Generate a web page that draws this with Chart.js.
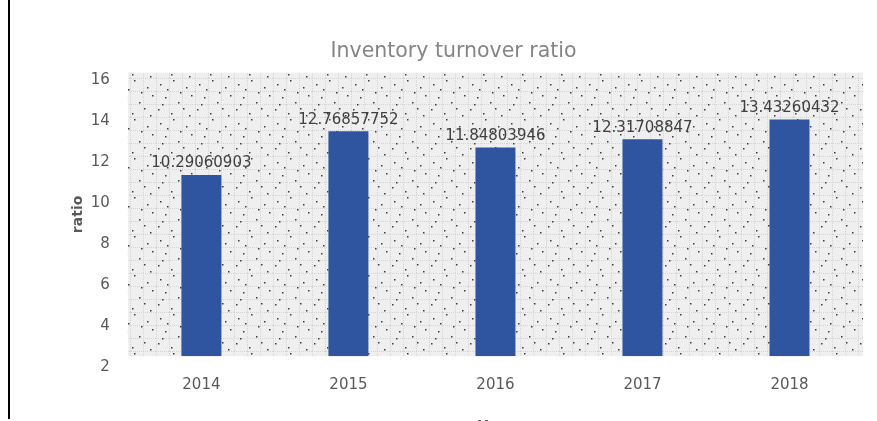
<!DOCTYPE html>
<html lang="en">
    <head>
        <title>Inventory turnover ratio</title>
        <meta charset="utf-8">
        <script src="https://cdnjs.cloudflare.com/ajax/libs/Chart.js/4.4.1/chart.umd.min.js"></script>
        <style>
            html, body { margin: 0; padding: 0; background: #fff; overflow: hidden; }
            .frame { position: absolute; left: 8px; top: 0; width: 2px; height: 419px; background: #000; }
            .container { position: relative; width: 877px; height: 440px; }
        </style>
    </head>

    <body>
        <div class="container">
            <canvas id="ratioChart" width="877" height="440"></canvas>
        </div>
        <div class="frame"></div>

        <script>
            // values
            const years = ['2014', '2015', '2016', '2017', '2018'];
            const ratios = [10.29060903, 12.76857752, 11.84803946, 12.31708847, 13.43260432];
            const yTickValues = [2, 4, 6, 8, 10, 12, 14, 16];

            const barBlue = '#2f55a0';
            const textGrey = '#595959';

            // dotted excel-like fill for the plot area
            function makePattern(ctx) {
                const tile = document.createElement('canvas');
                tile.width = 39;
                tile.height = 39;
                const t = tile.getContext('2d');
                t.fillStyle = '#efefef';
                t.fillRect(0, 0, 39, 39);
                t.fillStyle = '#d4d4d4';
                for (let k = 0; k < 39; k += 13) {
                    for (let j = 0; j < 39; j += 2) {
                        t.fillRect(k, j, 1, 1);
                        t.fillRect(j, k, 1, 1);
                    }
                }
                t.fillStyle = '#3a3a3a';
                const dots = [[4, 6], [17, 2], [30, 9], [9, 19], [22, 24], [35, 17], [2, 31], [15, 35], [27, 30], [11, 11], [33, 37], [24, 14], [6, 26]];
                dots.forEach(d => t.fillRect(d[0], d[1], 1.5, 1.5));
                return ctx.createPattern(tile, 'repeat');
            }

            const plotBackground = {
                id: 'plotBackground',
                beforeDatasetsDraw(chart) {
                    const { ctx, chartArea } = chart;
                    ctx.save();
                    ctx.fillStyle = makePattern(ctx);
                    ctx.fillRect(chartArea.left, chartArea.top, chartArea.right - chartArea.left, chartArea.bottom - chartArea.top);
                    ctx.restore();
                }
            };

            const valueLabels = {
                id: 'valueLabels',
                afterDatasetsDraw(chart) {
                    const { ctx } = chart;
                    const meta = chart.getDatasetMeta(0);
                    ctx.save();
                    ctx.font = '15px "DejaVu Sans"';
                    ctx.fillStyle = '#404040';
                    ctx.textAlign = 'center';
                    ctx.textBaseline = 'bottom';
                    meta.data.forEach((bar, i) => {
                        ctx.fillText(String(chart.data.datasets[0].data[i]), bar.x, bar.y - 4);
                    });
                    ctx.restore();
                }
            };

            const ctx = document.getElementById('ratioChart').getContext('2d');
            const chart = new Chart(ctx, {
                type: 'bar',
                data: {
                    labels: years,
                    datasets: [{
                        label: 'ratio',
                        data: ratios,
                        yAxisID: 'yBars',
                        backgroundColor: barBlue,
                        borderWidth: 0,
                        categoryPercentage: 1,
                        barPercentage: 0.272
                    }]
                },
                options: {
                    responsive: false,
                    animation: false,
                    layout: { padding: { left: 30, right: 0, top: 0, bottom: 5 } },
                    plugins: {
                        legend: { display: false },
                        tooltip: { enabled: false },
                        title: {
                            display: true,
                            text: 'Inventory turnover ratio',
                            color: '#858585',
                            font: { family: 'DejaVu Sans', size: 20.5, weight: 'normal' },
                            padding: { top: 39, bottom: 9 }
                        }
                    },
                    scales: {
                        x: {
                            grid: { display: false, drawTicks: false },
                            border: { display: false },
                            ticks: { color: textGrey, font: { family: 'DejaVu Sans', size: 15 }, padding: 20 },
                            title: {
                                display: true,
                                text: 'Year',
                                color: textGrey,
                                font: { family: 'DejaVu Sans', size: 14, weight: 'bold' },
                                padding: { top: 4, bottom: 0 }
                            }
                        },
                        y: {
                            position: 'left',
                            min: 2.55,
                            max: 16.35,
                            afterBuildTicks(scale) {
                                scale.ticks = yTickValues.map(v => ({ value: v }));
                            },
                            grid: { display: false, drawTicks: false },
                            border: { display: false },
                            ticks: { color: textGrey, font: { family: 'DejaVu Sans', size: 15 }, padding: 18 },
                            title: {
                                display: true,
                                text: 'ratio',
                                color: textGrey,
                                font: { family: 'DejaVu Sans', size: 14, weight: 'bold' },
                                padding: { top: 40, bottom: -14 }
                            }
                        },
                        yBars: {
                            position: 'right',
                            min: 0,
                            max: 16.1,
                            grid: { display: false, drawTicks: false },
                            border: { display: false },
                            ticks: { display: false },
                            afterFit(scale) {
                                scale.width = 14;
                            }
                        }
                    }
                },
                plugins: [plotBackground, valueLabels]
            });
        </script>
    </body>
</html>
